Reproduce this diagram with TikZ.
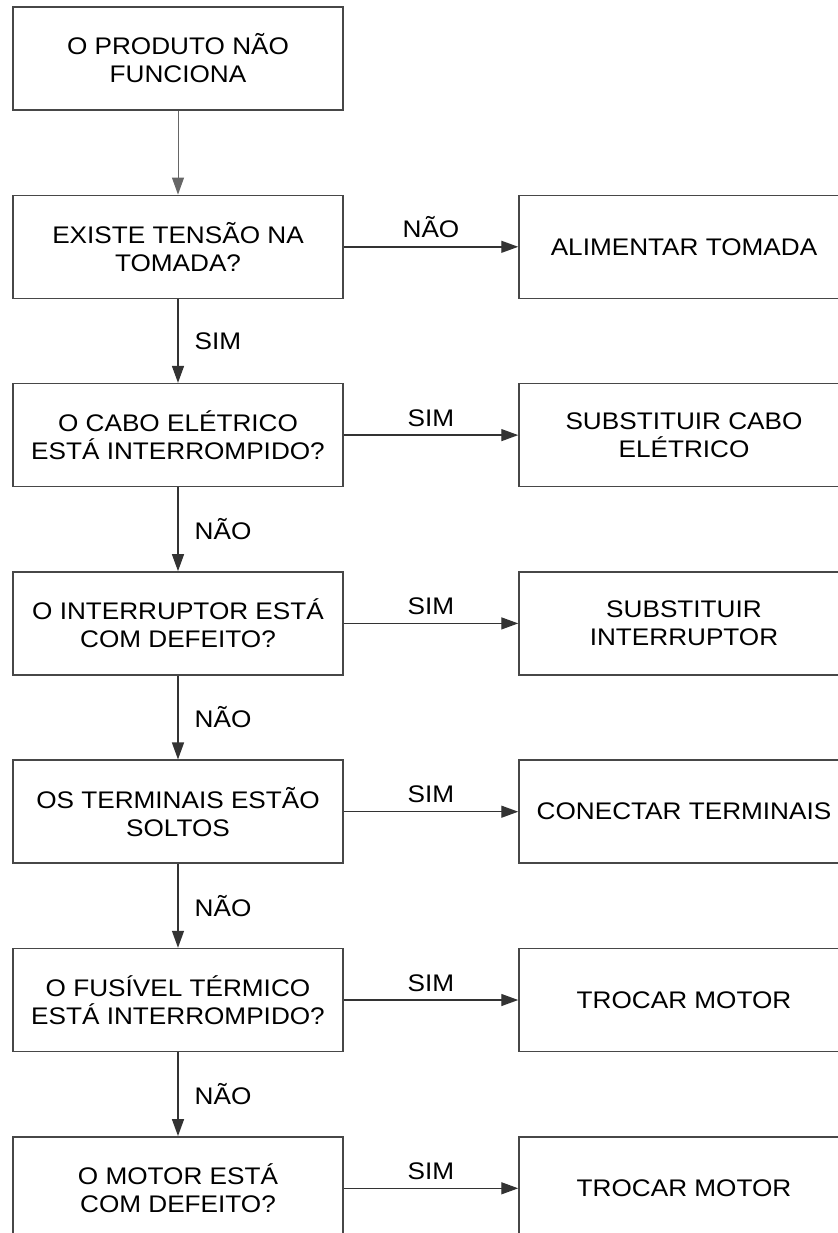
\documentclass[tikz,border=0pt]{standalone}
\usepackage{fontspec}
\setmainfont{Liberation Sans}[FakeStretch=1.09]
\usetikzlibrary{arrows.meta}
\begin{document}
\begin{tikzpicture}[x=0.5pt,y=-0.5pt,
  box/.style={draw=black!72, line width=0.75pt, minimum width=165pt, minimum height=51.5pt,
    inner sep=0pt, align=center, font=\fontsize{12}{14}\selectfont, text=black},
  arr/.style={draw=black!80, line width=0.7pt, -{Triangle[length=8.5pt,width=6pt]}},
  lbl/.style={inner sep=0pt, font=\fontsize{12}{14}\selectfont, text=black}]
\clip (0,0) rectangle (838,1233);
% question column
\node[box] (q0) at (178,58.5)   {O PRODUTO NÃO\\FUNCIONA};
\node[box] (q1) at (178,246.8)  {EXISTE TENSÃO NA\\TOMADA?};
\node[box] (q2) at (178,435.1)  {O CABO ELÉTRICO\\ESTÁ INTERROMPIDO?};
\node[box] (q3) at (178,623.4)  {O INTERRUPTOR ESTÁ\\COM DEFEITO?};
\node[box] (q4) at (178,811.7)  {OS TERMINAIS ESTÃO\\SOLTOS};
\node[box] (q5) at (178,1000)   {O FUSÍVEL TÉRMICO\\ESTÁ INTERROMPIDO?};
\node[box] (q6) at (178,1188.3) {O MOTOR ESTÁ\\COM DEFEITO?};
% action column
\node[box] (a1) at (684,246.8)  {ALIMENTAR TOMADA};
\node[box] (a2) at (684,435.1)  {SUBSTITUIR CABO\\ELÉTRICO};
\node[box] (a3) at (684,623.4)  {SUBSTITUIR\\INTERRUPTOR};
\node[box] (a4) at (684,811.7)  {CONECTAR TERMINAIS};
\node[box] (a5) at (684,1000)   {TROCAR MOTOR};
\node[box] (a6) at (684,1188.3) {TROCAR MOTOR};
% vertical connectors
\draw[arr, draw=black!60, line width=0.5pt] (q0) -- (q1);
\draw[arr] (q1) -- node[lbl, right=8pt] (v1) {SIM} (q2);
\draw[arr] (q2) -- node[lbl, right=8pt] (v2) {NÃO} (q3);
\draw[arr] (q3) -- node[lbl, right=8pt] (v3) {NÃO} (q4);
\draw[arr] (q4) -- node[lbl, right=8pt] (v4) {NÃO} (q5);
\draw[arr] (q5) -- node[lbl, right=8pt] (v5) {NÃO} (q6);
% horizontal connectors
\draw[arr] (q1) -- node[lbl, above=4pt] (h1) {NÃO} (a1);
\draw[arr] (q2) -- node[lbl, above=4pt] (h2) {SIM} (a2);
\draw[arr] (q3) -- node[lbl, above=4pt] (h3) {SIM} (a3);
\draw[arr] (q4) -- node[lbl, above=4pt] (h4) {SIM} (a4);
\draw[arr] (q5) -- node[lbl, above=4pt] (h5) {SIM} (a5);
\draw[arr] (q6) -- node[lbl, above=4pt] (h6) {SIM} (a6);
\end{tikzpicture}
\end{document}
